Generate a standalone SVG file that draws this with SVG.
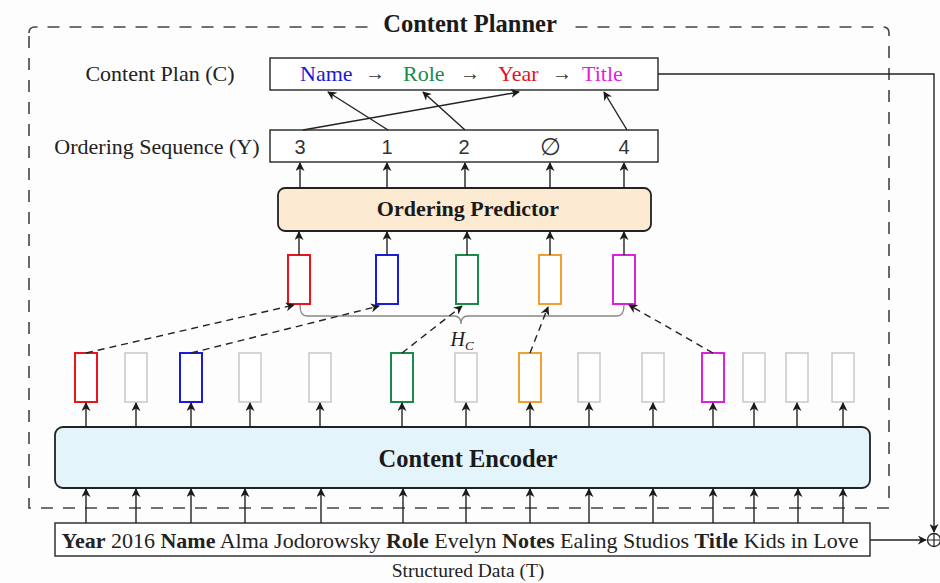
<svg xmlns="http://www.w3.org/2000/svg" width="940" height="583" viewBox="0 0 940 583">
<defs>
<marker id="ah" viewBox="0 0 10 10" refX="9" refY="5" markerWidth="9" markerHeight="9" markerUnits="userSpaceOnUse" orient="auto">
<path d="M0,0 L10,5 L0,10 L3,5 Z" fill="#1a1a1a"/>
</marker>
<style>
.serif{font-family:"Liberation Serif","Times New Roman",serif;}
.lbl{font-size:22px;fill:#222;}
.box{fill:#fff;stroke:#333;stroke-width:1.5;}
.ln{stroke:#222;stroke-width:1.4;fill:none;}
.dash{stroke:#222;stroke-width:1.4;fill:none;stroke-dasharray:7,5;}
.h{fill:#fff;stroke-width:2;}
.g{fill:#fff;stroke:#c8c8c8;stroke-width:1.5;}
.arr{fill:#333;font-size:20px;}
</style>
</defs>
<rect width="940" height="583" fill="#fdfdfd"/>

<g id="planner-frame">
<path d="M29,33 Q29,27 35,27 L883,27 Q889,27 889,33 L889,508 L29,508 Z" fill="none" stroke="#444" stroke-width="1.6" stroke-dasharray="12,10"/>
<rect x="370" y="10" width="200" height="30" fill="#fdfdfd"/>
<text x="470" y="32" text-anchor="middle" class="serif" font-size="24.5" font-weight="bold" fill="#1a1a1a">Content Planner</text>
</g>

<g id="content-plan">
<text x="160" y="81" text-anchor="middle" class="serif lbl">Content Plan (C)</text>
<rect x="270" y="58" width="388" height="32" class="box"/>
<text y="81" class="serif" font-size="22">
<tspan x="300" fill="#1a1ad6">Name</tspan>
<tspan x="403" fill="#1a8a4a">Role</tspan>
<tspan x="498" fill="#e0141e">Year</tspan>
<tspan x="582" fill="#e01ee0">Title</tspan>
</text>
<g class="serif arr" text-anchor="middle">
<text x="375" y="80">→</text>
<text x="470" y="80">→</text>
<text x="562" y="80">→</text>
</g>
</g>

<g id="ordering-sequence">
<text x="157" y="154" text-anchor="middle" class="serif lbl">Ordering Sequence (Y)</text>
<rect x="270" y="130" width="388" height="32" class="box"/>
<g font-family="Liberation Sans, Arial, sans-serif" font-size="20" fill="#333" text-anchor="middle">
<text x="300" y="154">3</text>
<text x="387" y="154">1</text>
<text x="464" y="154">2</text>
<text x="550" y="155" font-size="24">∅</text>
<text x="624" y="154">4</text>
</g>
</g>

<g id="ordering-predictor">
<rect x="278" y="188" width="373" height="43" rx="7" fill="#fcebd2" stroke="#222" stroke-width="1.8"/>
<text x="468" y="216" text-anchor="middle" class="serif" font-size="22" font-weight="bold" fill="#1a1a1a">Ordering Predictor</text>
</g>

<g id="hc-row">
<rect x="288" y="255" width="22" height="49" class="h" stroke="#e8141e"/>
<rect x="376" y="255" width="22" height="49" class="h" stroke="#1a1ae0"/>
<rect x="456" y="255" width="22" height="49" class="h" stroke="#1a8a4a"/>
<rect x="539" y="255" width="22" height="49" class="h" stroke="#f0a030"/>
<rect x="613" y="255" width="22" height="49" class="h" stroke="#e01ee0"/>
</g>

<g id="hc-brace">
<path d="M300,305 Q300,316 307,316 L454,316 Q461,316 461,324 Q461,316 468,316 L617,316 Q624,316 624,305" fill="none" stroke="#888" stroke-width="1.3"/>
<text x="462" y="346" text-anchor="middle" class="serif" font-size="20" font-style="italic" fill="#222">H<tspan font-size="13" dy="4">C</tspan></text>
</g>

<g id="encoder-states">
<rect x="75" y="353" width="22" height="49" class="h" stroke="#e8141e"/>
<rect x="125" y="353" width="22" height="49" class="g"/>
<rect x="180" y="353" width="22" height="49" class="h" stroke="#1a1ae0"/>
<rect x="239" y="353" width="22" height="49" class="g"/>
<rect x="309" y="353" width="22" height="49" class="g"/>
<rect x="391" y="353" width="22" height="49" class="h" stroke="#1a8a4a"/>
<rect x="455" y="353" width="22" height="49" class="g"/>
<rect x="519" y="353" width="22" height="49" class="h" stroke="#f0a030"/>
<rect x="578" y="353" width="22" height="49" class="g"/>
<rect x="642" y="353" width="22" height="49" class="g"/>
<rect x="702" y="353" width="22" height="49" class="h" stroke="#e01ee0"/>
<rect x="743" y="353" width="22" height="49" class="g"/>
<rect x="786" y="353" width="22" height="49" class="g"/>
<rect x="832" y="353" width="22" height="49" class="g"/>
</g>

<g id="content-encoder">
<rect x="55" y="427" width="815" height="61" rx="8" fill="#e3f4fb" stroke="#222" stroke-width="1.8"/>
<text x="468" y="467" text-anchor="middle" class="serif" font-size="24.5" font-weight="bold" fill="#1a1a1a">Content Encoder</text>
</g>

<g id="structured-data">
<rect x="55" y="523" width="815" height="33" class="box"/>
<text x="460" y="548" text-anchor="middle" class="serif" font-size="22" fill="#222"><tspan font-weight="bold">Year</tspan> 2016 <tspan font-weight="bold">Name</tspan> Alma Jodorowsky <tspan font-weight="bold">Role</tspan> Evelyn <tspan font-weight="bold">Notes</tspan> Ealing Studios <tspan font-weight="bold">Title</tspan> Kids in Love</text>
<text x="468" y="577" text-anchor="middle" class="serif" font-size="19.5" fill="#222">Structured Data (T)</text>
</g>

<g id="combine">
<circle cx="934" cy="540" r="6.5" fill="#fff" stroke="#222" stroke-width="1.3"/>
<path d="M927.5,540 H940 M934,533.5 V546.5" stroke="#222" stroke-width="1.2"/>
</g>

<g id="connectors">
<line x1="303" y1="130" x2="519" y2="92" class="ln" marker-end="url(#ah)"/>
<line x1="388" y1="130" x2="328" y2="92" class="ln" marker-end="url(#ah)"/>
<line x1="465" y1="130" x2="423" y2="92" class="ln" marker-end="url(#ah)"/>
<line x1="627" y1="130" x2="604" y2="92" class="ln" marker-end="url(#ah)"/>
<line x1="300" y1="188" x2="300" y2="163" class="ln" marker-end="url(#ah)"/>
<line x1="387" y1="188" x2="387" y2="163" class="ln" marker-end="url(#ah)"/>
<line x1="465" y1="188" x2="465" y2="163" class="ln" marker-end="url(#ah)"/>
<line x1="550" y1="188" x2="550" y2="163" class="ln" marker-end="url(#ah)"/>
<line x1="624" y1="188" x2="624" y2="163" class="ln" marker-end="url(#ah)"/>
<line x1="299" y1="255" x2="299" y2="232" class="ln" marker-end="url(#ah)"/>
<line x1="387" y1="255" x2="387" y2="232" class="ln" marker-end="url(#ah)"/>
<line x1="467" y1="255" x2="467" y2="232" class="ln" marker-end="url(#ah)"/>
<line x1="550" y1="255" x2="550" y2="232" class="ln" marker-end="url(#ah)"/>
<line x1="624" y1="255" x2="624" y2="232" class="ln" marker-end="url(#ah)"/>
<line x1="86" y1="353" x2="294" y2="305" class="dash" marker-end="url(#ah)"/>
<line x1="191" y1="353" x2="379" y2="306" class="dash" marker-end="url(#ah)"/>
<line x1="402" y1="353" x2="462" y2="306" class="dash" marker-end="url(#ah)"/>
<line x1="530" y1="353" x2="548" y2="307" class="dash" marker-end="url(#ah)"/>
<line x1="713" y1="353" x2="629" y2="305" class="dash" marker-end="url(#ah)"/>
<g class="ln">
<line x1="86" y1="427" x2="86" y2="403" marker-end="url(#ah)"/>
<line x1="136" y1="427" x2="136" y2="403" marker-end="url(#ah)"/>
<line x1="191" y1="427" x2="191" y2="403" marker-end="url(#ah)"/>
<line x1="250" y1="427" x2="250" y2="403" marker-end="url(#ah)"/>
<line x1="320" y1="427" x2="320" y2="403" marker-end="url(#ah)"/>
<line x1="402" y1="427" x2="402" y2="403" marker-end="url(#ah)"/>
<line x1="466" y1="427" x2="466" y2="403" marker-end="url(#ah)"/>
<line x1="530" y1="427" x2="530" y2="403" marker-end="url(#ah)"/>
<line x1="589" y1="427" x2="589" y2="403" marker-end="url(#ah)"/>
<line x1="653" y1="427" x2="653" y2="403" marker-end="url(#ah)"/>
<line x1="713" y1="427" x2="713" y2="403" marker-end="url(#ah)"/>
<line x1="754" y1="427" x2="754" y2="403" marker-end="url(#ah)"/>
<line x1="797" y1="427" x2="797" y2="403" marker-end="url(#ah)"/>
<line x1="843" y1="427" x2="843" y2="403" marker-end="url(#ah)"/>
</g>
<g class="ln">
<line x1="86" y1="523" x2="86" y2="489" marker-end="url(#ah)"/>
<line x1="136" y1="523" x2="136" y2="489" marker-end="url(#ah)"/>
<line x1="191" y1="523" x2="191" y2="489" marker-end="url(#ah)"/>
<line x1="245" y1="523" x2="245" y2="489" marker-end="url(#ah)"/>
<line x1="321" y1="523" x2="321" y2="489" marker-end="url(#ah)"/>
<line x1="403" y1="523" x2="403" y2="489" marker-end="url(#ah)"/>
<line x1="466" y1="523" x2="466" y2="489" marker-end="url(#ah)"/>
<line x1="530" y1="523" x2="530" y2="489" marker-end="url(#ah)"/>
<line x1="589" y1="523" x2="589" y2="489" marker-end="url(#ah)"/>
<line x1="653" y1="523" x2="653" y2="489" marker-end="url(#ah)"/>
<line x1="713" y1="523" x2="713" y2="489" marker-end="url(#ah)"/>
<line x1="754" y1="523" x2="754" y2="489" marker-end="url(#ah)"/>
<line x1="798" y1="523" x2="798" y2="489" marker-end="url(#ah)"/>
<line x1="843" y1="523" x2="843" y2="489" marker-end="url(#ah)"/>
</g>
<path d="M658,74 H934 V532" class="ln" marker-end="url(#ah)"/>
<line x1="870" y1="540" x2="926" y2="540" class="ln" marker-end="url(#ah)"/>
</g>
</svg>
